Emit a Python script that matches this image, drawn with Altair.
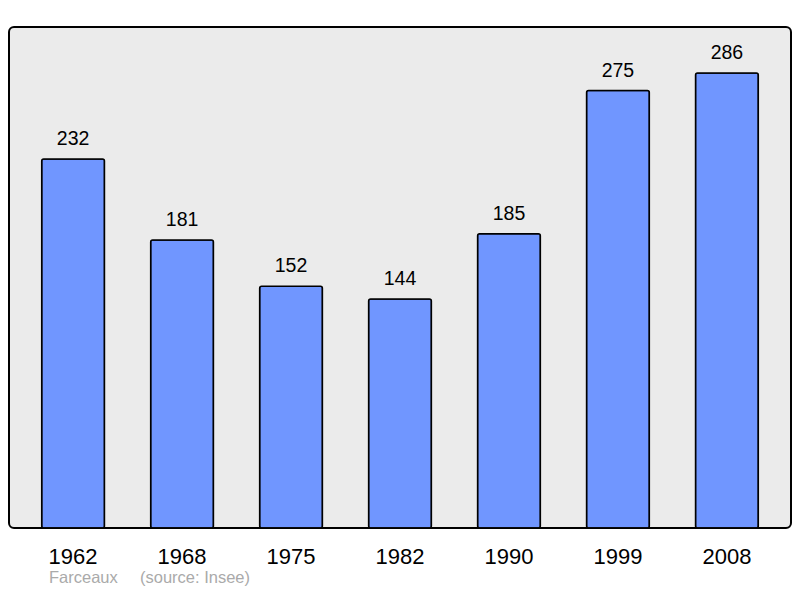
import altair as alt
import pandas as pd

years = ["1962", "1968", "1975", "1982", "1990", "1999", "2008"]
population = [232, 181, 152, 144, 185, 275, 286]
commune = "Farceaux"
source = "(source: Insee)"

df = pd.DataFrame({"year": years, "pop": population})

FONT = "Liberation Sans"

x = alt.X("year:N", sort=years, title=None,
          scale=alt.Scale(paddingInner=0.424, paddingOuter=0.3),
          axis=alt.Axis(domain=False, ticks=False, labelAngle=0, labelFontSize=22,
                        labelFont=FONT, labelColor="black", labelPadding=18))
y = alt.Y("pop:Q", title=None, scale=alt.Scale(domain=[0, 315], nice=False),
          axis=None)

bars = alt.Chart(df).mark_bar(color="#7096ff", stroke="black", strokeWidth=1.5,
                              cornerRadius=2).encode(x=x, y=y)
labels = alt.Chart(df).mark_text(baseline="alphabetic", dy=-14, fontSize=19.5, font=FONT,
                                 color="black").encode(x=x, y=y, text="pop:Q")

foot1 = alt.Chart(pd.DataFrame({"t": [commune]})).mark_text(
    align="left", baseline="middle", fontSize=16.5, font=FONT, color="#aaaaaa"
).encode(x=alt.value(40), y=alt.value(551), text="t:N")
foot2 = alt.Chart(pd.DataFrame({"t": [source]})).mark_text(
    align="left", baseline="middle", fontSize=16.5, font=FONT, color="#aaaaaa"
).encode(x=alt.value(131), y=alt.value(551), text="t:N")

chart = alt.layer(bars, labels, foot1, foot2).properties(
    width=782, height=501,
    autosize=alt.AutoSizeParams(type="none"),
    padding={"left": 1, "top": 19, "right": 1, "bottom": 62},
).configure_view(
    fill="#ebebeb", stroke="black", strokeWidth=2, cornerRadius=5
)

chart.save("out.html", embed_options={"renderer": "svg", "actions": False})
